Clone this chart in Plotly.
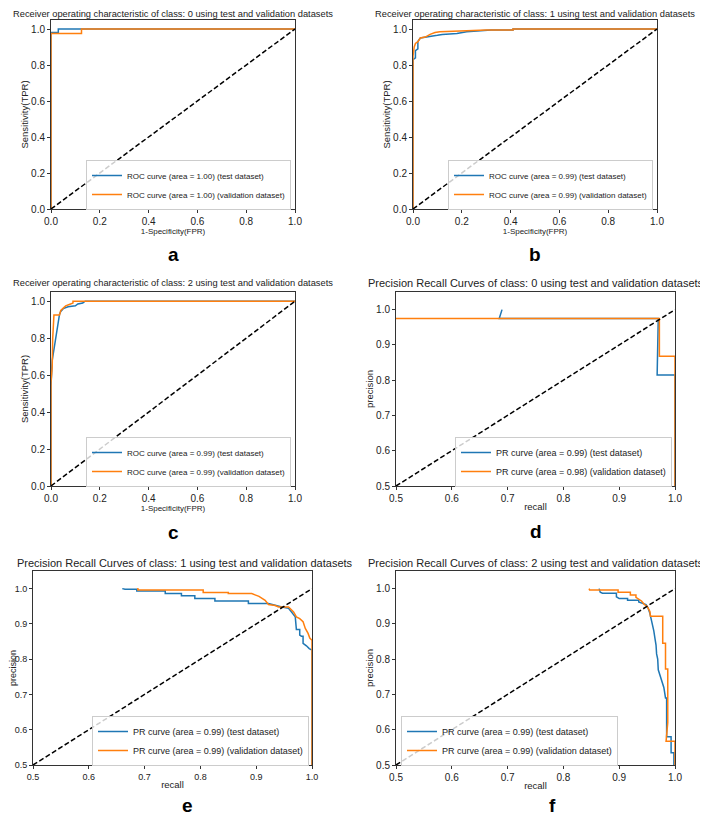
import plotly.graph_objects as go

BLUE = '#1f77b4'
ORANGE = '#ff7f0e'

# ---------------- data ----------------
# (a) ROC class 0
a_test_fpr = [0.0, 0.0, 0.0, 0.03, 0.03, 1.0]
a_test_tpr = [0.0, 0.82, 0.98, 0.98, 1.0, 1.0]
a_val_fpr = [0.0, 0.0, 0.125, 0.125, 1.0]
a_val_tpr = [0.0, 0.975, 0.975, 1.0, 1.0]

# (b) ROC class 1
b_test_fpr = [0.0, 0.0, 0.01, 0.01, 0.02, 0.02, 0.03, 0.06, 0.08, 0.10, 0.12, 0.18, 0.22, 0.27, 0.32, 0.41, 0.41, 1.0]
b_test_tpr = [0.0, 0.83, 0.84, 0.88, 0.89, 0.93, 0.95, 0.955, 0.96, 0.965, 0.97, 0.975, 0.985, 0.99, 0.995, 0.995, 1.0, 1.0]
b_val_fpr = [0.0, 0.0, 0.005, 0.01, 0.02, 0.03, 0.05, 0.07, 0.09, 0.11, 0.22, 0.30, 0.41, 0.41, 1.0]
b_val_tpr = [0.0, 0.85, 0.90, 0.92, 0.93, 0.95, 0.955, 0.97, 0.98, 0.985, 0.99, 0.995, 0.995, 1.0, 1.0]

# (c) ROC class 2
c_test_fpr = [0.0, 0.0, 0.005, 0.01, 0.015, 0.02, 0.025, 0.03, 0.035, 0.04, 0.05, 0.07, 0.10, 0.11, 0.13, 0.14, 1.0]
c_test_tpr = [0.0, 0.54, 0.68, 0.72, 0.77, 0.80, 0.85, 0.90, 0.93, 0.945, 0.96, 0.97, 0.975, 0.985, 0.99, 1.0, 1.0]
c_val_fpr = [0.0, 0.0, 0.005, 0.007, 0.012, 0.035, 0.04, 0.06, 0.08, 0.09, 0.09, 1.0]
c_val_tpr = [0.0, 0.56, 0.65, 0.80, 0.925, 0.925, 0.95, 0.975, 0.985, 0.99, 1.0, 1.0]

# (d) PR class 0
d_test_rec = [0.69, 0.685, 0.97, 0.968, 1.0, 1.0]
d_test_prec = [1.0, 0.975, 0.975, 0.815, 0.815, 0.33]
d_val_rec = [0.45, 0.972, 0.972, 1.0, 1.0]
d_val_prec = [0.975, 0.975, 0.868, 0.868, 0.33]

# (e) PR class 1
e_test_rec = [0.660, 0.665, 0.686, 0.686, 0.737, 0.737, 0.766, 0.766, 0.790, 0.790, 0.826, 0.826, 0.886, 0.886,
              0.922, 0.935, 0.946, 0.958, 0.966, 0.970, 0.972, 0.978, 0.978, 0.981, 0.984, 0.984, 0.990, 0.995, 1.0, 1.0]
e_test_prec = [1.0, 0.998, 0.998, 0.993, 0.993, 0.986, 0.986, 0.980, 0.980, 0.972, 0.972, 0.965, 0.965, 0.958,
               0.958, 0.952, 0.948, 0.944, 0.93, 0.92, 0.884, 0.884, 0.868, 0.865, 0.865, 0.845, 0.838, 0.830, 0.826, 0.30]
e_val_rec = [0.688, 0.688, 0.805, 0.805, 0.850, 0.850, 0.892, 0.905, 0.916, 0.922, 0.934, 0.940, 0.958, 0.961,
             0.967, 0.972, 0.978, 0.984, 0.988, 0.993, 0.996, 0.999, 1.0, 1.0]
e_val_prec = [1.002, 0.996, 0.996, 0.989, 0.989, 0.986, 0.986, 0.978, 0.967, 0.955, 0.952, 0.948, 0.948, 0.944,
              0.934, 0.920, 0.915, 0.906, 0.887, 0.873, 0.860, 0.855, 0.855, 0.30]

# (f) PR class 2
f_test_rec = [0.864, 0.866, 0.870, 0.895, 0.895, 0.900, 0.915, 0.915, 0.935, 0.935, 0.948, 0.952, 0.955, 0.958,
              0.960, 0.962, 0.964, 0.966, 0.967, 0.969, 0.970, 0.972, 0.975, 0.978, 0.980, 0.983, 0.985, 0.985,
              0.993, 0.993, 0.998, 0.998]
f_test_prec = [1.0, 0.99, 0.987, 0.987, 0.977, 0.972, 0.972, 0.967, 0.967, 0.962, 0.955, 0.944, 0.93, 0.91,
               0.90, 0.88, 0.86, 0.84, 0.815, 0.80, 0.77, 0.76, 0.745, 0.735, 0.72, 0.69, 0.69, 0.58,
               0.58, 0.535, 0.535, 0.30]
f_val_rec = [0.846, 0.847, 0.898, 0.898, 0.920, 0.920, 0.930, 0.930, 0.940, 0.945, 0.950, 0.955, 0.956, 0.978,
             0.978, 0.983, 0.983, 0.987, 0.987, 0.984, 1.0, 1.0]
f_val_prec = [1.0, 0.996, 0.996, 0.990, 0.990, 0.982, 0.982, 0.975, 0.965, 0.955, 0.950, 0.935, 0.922, 0.922,
              0.845, 0.845, 0.772, 0.772, 0.62, 0.567, 0.567, 0.30]

diag = [0.0, 1.0]

roc_ticks = [0.0, 0.2, 0.4, 0.6, 0.8, 1.0]
pr_ticks = [0.5, 0.6, 0.7, 0.8, 0.9, 1.0]

titles = [
    'Receiver operating characteristic of class: 0 using test and validation datasets',
    'Receiver operating characteristic of class: 1 using test and validation datasets',
    'Receiver operating characteristic of class: 2 using test and validation datasets',
    'Precision Recall Curves of class: 0 using test and validation datasets',
    'Precision Recall Curves of class: 1 using test and validation datasets',
    'Precision Recall Curves of class: 2 using test and validation datasets',
]
letters = ['a', 'b', 'c', 'd', 'e', 'f']
legend_test = [
    'ROC curve (area = 1.00) (test dataset)',
    'ROC curve (area = 0.99) (test dataset)',
    'ROC curve (area = 0.99) (test dataset)',
    'PR curve (area = 0.99) (test dataset)',
    'PR curve (area = 0.99) (test dataset)',
    'PR curve (area = 0.99) (test dataset)',
]
legend_val = [
    'ROC curve (area = 1.00) (validation dataset)',
    'ROC curve (area = 0.99) (validation dataset)',
    'ROC curve (area = 0.99) (validation dataset)',
    'PR curve (area = 0.98) (validation dataset)',
    'PR curve (area = 0.99) (validation dataset)',
    'PR curve (area = 0.99) (validation dataset)',
]

series = [
    (a_test_fpr, a_test_tpr, a_val_fpr, a_val_tpr),
    (b_test_fpr, b_test_tpr, b_val_fpr, b_val_tpr),
    (c_test_fpr, c_test_tpr, c_val_fpr, c_val_tpr),
    (d_test_rec, d_test_prec, d_val_rec, d_val_prec),
    (e_test_rec, e_test_prec, e_val_rec, e_val_prec),
    (f_test_rec, f_test_prec, f_val_rec, f_val_prec),
]

# ---------------- layout (target page pixel boxes) ----------------
OFF = 8                      # default page body margin
W, H = 708 - OFF, 818 - OFF  # figure size so that it fills the window exactly


def px(x):
    return (x - OFF) / W


def py(y):
    return 1 - (y - OFF) / H


# (left, right, top, bottom) in page pixels
boxes = [
    (51, 295, 20, 209),
    (413, 657, 20, 209),
    (51, 295, 292, 486),
    (396, 675, 292, 486),
    (33, 312, 571, 765),
    (396, 675, 571, 765),
]
# (centre x, y, anchor, size)
title_pos = [(173, 8, 'top', 9.3), (535, 8, 'top', 9.3), (173, 283, 'middle', 9.3),
             (535.5, 283, 'middle', 11), (185, 563, 'middle', 11), (535.5, 563, 'middle', 11)]
letter_pos = [(173, 255), (535, 255), (173, 532), (536, 531), (187, 805), (552, 805)]
# legend anchor: (x, y, xanchor, font size)
legend_pos = [(291, 210, 'right', 8), (653, 210, 'right', 8), (291, 487, 'right', 8),
              (672, 487, 'right', 9), (309, 766, 'right', 9), (401, 766, 'left', 9)]

FONT = 'Liberation Sans, Arial, sans-serif'

fig = go.Figure()
layout = dict(
    template='none',
    width=W, height=H, paper_bgcolor='white', plot_bgcolor='white',
    margin=dict(l=0, r=0, t=0, b=0, autoexpand=False),
    font=dict(family=FONT, size=10, color='#222'),
    annotations=[],
)

for i in range(6):
    n = '' if i == 0 else str(i + 1)
    xa, ya = 'x' + n, 'y' + n
    lg = 'legend' + n
    tx, ty, vx, vy = series[i]
    fig.add_trace(go.Scatter(x=tx, y=ty, mode='lines', line=dict(color=BLUE, width=1.5),
                             name=legend_test[i], xaxis=xa, yaxis=ya, legend=lg))
    fig.add_trace(go.Scatter(x=vx, y=vy, mode='lines', line=dict(color=ORANGE, width=1.5),
                             name=legend_val[i], xaxis=xa, yaxis=ya, legend=lg))
    fig.add_trace(go.Scatter(x=diag, y=diag, mode='lines', line=dict(color='black', width=1.5, dash='5px,2.5px'),
                             showlegend=False, xaxis=xa, yaxis=ya, hoverinfo='skip'))
    l, r, t, b = boxes[i]
    roc = i < 3
    ticks = roc_ticks if roc else pr_ticks
    tick_size = 9 if i == 4 else 10
    axcommon = dict(showline=True, mirror=True, linecolor='#333', linewidth=1, ticks='outside',
                    ticklen=3, tickcolor='#333', showgrid=False, zeroline=False, automargin=False,
                    tickfont=dict(size=tick_size, color='#222'), tickformat='.1f')
    layout['xaxis' + n] = dict(axcommon, domain=[px(l), px(r)], anchor=ya,
                               range=[0, 1] if roc else [0.5, 1.0], tickvals=ticks,
                               title=dict(text='1-Specificity(FPR)' if roc else 'recall',
                                          font=dict(size=8 if roc else 9.5, color='#222'), standoff=0))
    layout['yaxis' + n] = dict(axcommon, domain=[py(b), py(t)], anchor=xa,
                               range=[0, 1.05] if roc else [0.5, 1.05], tickvals=ticks,
                               title=dict(text='Sensitivity(TPR)' if roc else 'precision',
                                          font=dict(size=9 if i == 4 else 9.5, color='#222'), standoff=0))
    lx, ly, lxa, lfs = legend_pos[i]
    layout[lg] = dict(x=px(lx), y=py(ly), xanchor=lxa, yanchor='bottom',
                      bgcolor='rgba(255,255,255,0.8)', bordercolor='#ccc', borderwidth=1,
                      font=dict(size=lfs, color='#222'), itemwidth=30, tracegroupgap=0)
    tcx, tcy, tanc, tfs = title_pos[i]
    layout['annotations'].append(dict(text=titles[i], x=px(tcx), y=py(tcy),
                                      xref='paper', yref='paper', showarrow=False,
                                      xanchor='center', yanchor=tanc, borderpad=0,
                                      font=dict(size=tfs, color='#222')))
    lpx, lpy = letter_pos[i]
    layout['annotations'].append(dict(text='<b>' + letters[i] + '</b>', x=px(lpx), y=py(lpy),
                                      xref='paper', yref='paper', showarrow=False,
                                      xanchor='center', yanchor='middle', borderpad=0,
                                      font=dict(family='Liberation Sans, Arial, sans-serif', size=19, color='black')))

fig.update_layout(**layout)
fig.write_html('out.html')
